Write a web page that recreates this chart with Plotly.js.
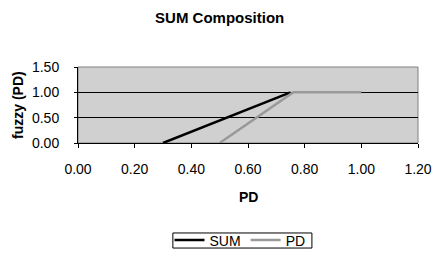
<!DOCTYPE html>
<html><head><meta charset="utf-8">
<script src="https://cdn.plot.ly/plotly-3.0.1.min.js"></script>
<style>html,body{margin:0;padding:0;background:#fff}#c{width:435px;height:255px}</style>
</head><body><div id="c"></div>
<script>
const sumX = [0.30, 0.75];
const sumY = [0.00, 1.00];
const pdX = [0.50, 0.76, 1.00];
const pdY = [0.00, 1.00, 1.00];
const xTicks = [0, 0.2, 0.4, 0.6, 0.8, 1.0, 1.2];
const yTicks = [0, 0.5, 1.0, 1.5];

const font = "Liberation Sans, Arial, sans-serif";
const data = [
  {x: sumX, y: sumY, name: "SUM", mode: "lines", line: {color: "#000000", width: 2.5}},
  {x: pdX, y: pdY, name: "PD", mode: "lines", line: {color: "#999999", width: 2.5}}
];
const layout = {
  width: 435, height: 255,
  margin: {l: 78, r: 17, t: 67, b: 112},
  paper_bgcolor: "#ffffff", plot_bgcolor: "#d0d0d0",
  font: {family: font, size: 14, color: "#000"},
  title: {text: "<b>SUM Composition</b>", x: 0.505, xanchor: "center", y: 0.93, yanchor: "middle", font: {family: font, size: 15}},
  xaxis: {
    range: [0, 1.2], tickvals: xTicks, ticktext: xTicks.map(v => v.toFixed(2)),
    showgrid: false, zeroline: false, showline: true, linecolor: "#000", linewidth: 1,
    ticks: "outside", ticklen: 4, tickcolor: "#000", ticklabelstandoff: 9,
    tickfont: {family: font, size: 14}, automargin: false
  },
  yaxis: {
    range: [0, 1.5], tickvals: yTicks, ticktext: yTicks.map(v => v.toFixed(2)),
    showgrid: true, gridcolor: "#000", gridwidth: 1, zeroline: false,
    showline: true, linecolor: "#000", linewidth: 1,
    ticks: "outside", ticklen: 3, tickcolor: "#000", ticklabelstandoff: 12,
    tickfont: {family: font, size: 14}, automargin: false
  },
  annotations: [
    {text: "<b>PD</b>", xref: "paper", yref: "paper", x: 0.5, y: -(197 - 143) / 76, xanchor: "center", yanchor: "middle", showarrow: false, font: {family: font, size: 14}},
    {text: "<b>fuzzy (PD)</b>", xref: "paper", yref: "paper", x: -(78 - 18) / 340, y: 0.5, xanchor: "center", yanchor: "middle", textangle: -90, showarrow: false, font: {family: font, size: 14}}
  ],
  shapes: [
    {type: "rect", xref: "paper", yref: "paper", x0: 0, x1: 1, y0: 0, y1: 1, line: {color: "#808080", width: 1}, layer: "below"},
    {type: "rect", xref: "paper", yref: "paper", x0: 0.279, x1: 0.688, y0: -1.382, y1: -1.184, line: {color: "#000", width: 1}, fillcolor: "rgba(0,0,0,0)"}
  ],
  showlegend: true,
  legend: {orientation: "h", xref: "container", yref: "container", x: 240 / 435, xanchor: "center", y: 1 - 240.5 / 255, yanchor: "middle",
    bgcolor: "rgba(0,0,0,0)", borderwidth: 0, font: {family: font, size: 14},
    itemwidth: 30, tracegroupgap: 0}
};
Plotly.newPlot("c", data, layout, {displayModeBar: false, staticPlot: true});
</script></body></html>
